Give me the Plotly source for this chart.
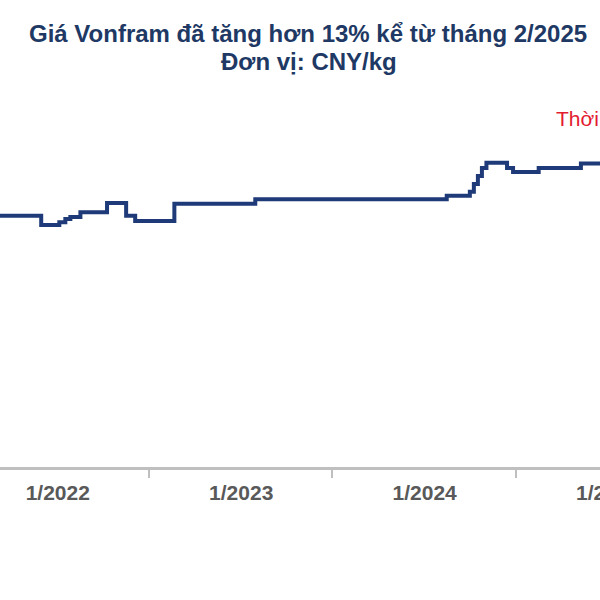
import plotly.graph_objects as go
import pandas as pd

# Data
dates = ["2021-09-08", "2021-11-29", "2022-01-04", "2022-01-16", "2022-01-26",
         "2022-02-15", "2022-04-09", "2022-05-17", "2022-06-04", "2022-08-21",
         "2023-01-29", "2024-02-14", "2024-03-31", "2024-04-08", "2024-04-16",
         "2024-04-24", "2024-05-03", "2024-06-13", "2024-06-25", "2024-08-15",
         "2024-11-07", "2024-12-31"]
prices = [190, 183, 185, 187.5, 189,
          192.5, 199.5, 190, 186, 199,
          202.5, 205, 208, 214, 220,
          226, 230, 226, 223, 226,
          229.5, 229.5]

label_dates = ["2022-01-01", "2023-01-01", "2024-01-01", "2025-01-01"]
label_text = ["1/2022", "1/2023", "1/2024", "1/2025"]
tick_dates = ["2022-07-01", "2023-07-01", "2024-07-01"]

title1 = "Giá Vonfram đã tăng hơn 13% kể từ tháng 2/2025"
title2 = "Đơn vị: CNY/kg"
note = "Thời điểm"

W = 600
x_range = ["2021-09-08", "2024-12-15"]

fig = go.Figure()
fig.add_trace(go.Scatter(
    x=dates, y=prices, mode="lines", line_shape="hv",
    line=dict(color="#1F3A78", width=4), showlegend=False,
))

label_font = dict(size=21, color="#595959", family="Liberation Sans, Arial, sans-serif")

# the last year label sits just past the visible (cropped) range: place it from the axis scale
r0, r1 = pd.Timestamp(x_range[0]), pd.Timestamp(x_range[1])
last_frac = (pd.Timestamp(label_dates[-1]) - r0) / (r1 - r0)

fig.update_layout(
    width=W, height=600,
    margin=dict(l=0, r=0, t=90, b=133),
    paper_bgcolor="white", plot_bgcolor="white",
    font=dict(family="Liberation Sans, Arial, sans-serif"),
    xaxis=dict(
        type="date", range=x_range,
        tickmode="array", tickvals=label_dates[:-1],
        ticktext=["<b>" + t + "</b>" for t in label_text[:-1]],
        ticks="", showgrid=False, zeroline=False,
        showline=True, linecolor="#BFBFBF", linewidth=3,
        tickfont=label_font,
        ticklabelstandoff=5,
        minor=dict(tickmode="array", tickvals=tick_dates, ticks="outside",
                   ticklen=8, tickwidth=2, tickcolor="#BFBFBF", showgrid=False),
    ),
    yaxis=dict(range=[0, 285], visible=False, showgrid=False, zeroline=False),
    annotations=[
        dict(text="<b>" + title1 + "</b>", xref="paper", yref="paper",
             x=308 / W, y=(467 - 33) / 377, xanchor="center", yanchor="middle", showarrow=False,
             font=dict(size=24, color="#203864")),
        dict(text="<b>" + title2 + "</b>", xref="paper", yref="paper",
             x=309 / W, y=(467 - 61) / 377, xanchor="center", yanchor="middle", showarrow=False,
             font=dict(size=24, color="#203864")),
        dict(text=note, xref="paper", yref="paper",
             x=554 / W, y=(467 - 119) / 377, xanchor="left", yanchor="middle",
             showarrow=False, font=dict(size=21, color="#E31B2F")),
        dict(text="<b>" + label_text[-1] + "</b>", xref="paper", yref="paper",
             x=last_frac, y=(467 - 492) / 377, xanchor="center", yanchor="middle",
             showarrow=False, font=label_font),
    ],
)

fig.write_html("out.html", config={"displayModeBar": False},
               post_script="document.body.style.margin='0';")
